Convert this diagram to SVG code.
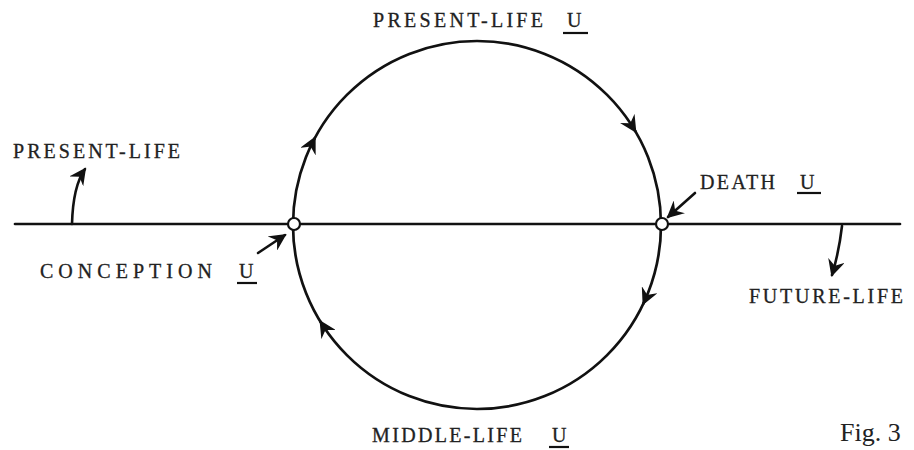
<svg xmlns="http://www.w3.org/2000/svg" width="914" height="450" viewBox="0 0 914 450">
<style>
.ln{fill:none;stroke:#111;stroke-width:2.7;stroke-linecap:round}
.ar{fill:none;stroke:#111;stroke-width:2.6;stroke-linecap:round}
.lb{font-family:"Liberation Serif","DejaVu Serif",serif;font-size:20px;fill:#222;stroke:#222;stroke-width:0.3}
.ul{stroke:#111;stroke-width:2.2}
.jn{fill:#fff;stroke:#111;stroke-width:2.2}
</style>
<defs>
<marker id="ah" viewBox="0 0 16 16" refX="14" refY="8" markerWidth="17" markerHeight="17" markerUnits="userSpaceOnUse" orient="auto">
<path d="M2,2 L14,8 L2,14 L6,8 Z" fill="#111" stroke="#111" stroke-width="1.6" stroke-linejoin="miter"/>
</marker>
</defs>
<rect width="914" height="450" fill="#fff"/>
<g id="cycle">
<circle class="ln" cx="477" cy="225" r="184"/>
</g>
<g id="axis">
<line class="ln" x1="15" y1="224" x2="900" y2="224"/>
</g>
<g id="connectors">
<path class="ar" d="M311.9,143.8 L314.8,138.0" marker-end="url(#ah)"/>
<path class="ar" d="M632.0,125.9 L635.4,131.3" marker-end="url(#ah)"/>
<path class="ar" d="M646.0,297.8 L643.4,303.6" marker-end="url(#ah)"/>
<path class="ar" d="M323.9,327.1 L320.5,321.7" marker-end="url(#ah)"/>
<path class="ar" d="M72,224 Q73,186 85,169" marker-end="url(#ah)"/>
<path class="ar" d="M258,253 L285,235" marker-end="url(#ah)"/>
<path class="ar" d="M695,193 L668,217" marker-end="url(#ah)"/>
<path class="ar" d="M842,226 Q839,252 832,275" marker-end="url(#ah)"/>
</g>
<g id="conception">
<circle class="jn" cx="294" cy="224" r="6"/>
<text class="lb" x="40" y="278" textLength="172" lengthAdjust="spacing">CONCEPTION</text>
<text class="lb" x="239" y="278">U</text>
<line class="ul" x1="237" y1="283" x2="257" y2="283"/>
</g>
<g id="death">
<circle class="jn" cx="662" cy="224" r="6"/>
<text class="lb" x="700" y="189" textLength="75" lengthAdjust="spacing">DEATH</text>
<text class="lb" x="800" y="189">U</text>
<line class="ul" x1="797" y1="193" x2="821" y2="193"/>
</g>
<g id="present-life-u">
<text class="lb" x="373" y="27" textLength="170" lengthAdjust="spacing">PRESENT-LIFE</text>
<text class="lb" x="567" y="27">U</text>
<line class="ul" x1="563" y1="33" x2="588" y2="33"/>
</g>
<g id="middle-life-u">
<text class="lb" x="372" y="442" textLength="150" lengthAdjust="spacing">MIDDLE-LIFE</text>
<text class="lb" x="552" y="442">U</text>
<line class="ul" x1="549" y1="447" x2="569" y2="447"/>
</g>
<g id="present-life">
<text class="lb" x="13" y="158" textLength="167" lengthAdjust="spacing">PRESENT-LIFE</text>
</g>
<g id="future-life">
<text class="lb" x="749" y="303" textLength="154" lengthAdjust="spacing">FUTURE-LIFE</text>
</g>
<g id="caption">
<text x="840" y="441" font-family="Liberation Serif, serif" font-size="26" fill="#222">Fig. 3</text>
</g>
</svg>
